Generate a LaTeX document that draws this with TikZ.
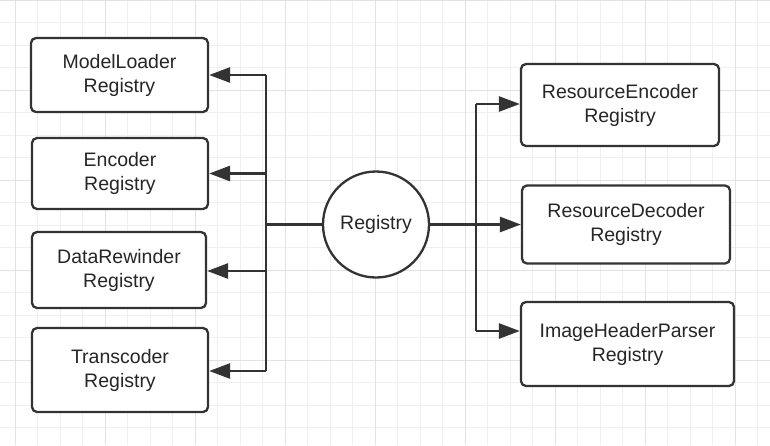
\documentclass[tikz,border=0pt]{standalone}
\usepackage{fontspec}
\setmainfont{Liberation Sans}
\usetikzlibrary{arrows.meta}
\definecolor{strokec}{HTML}{333333}
\definecolor{textc}{HTML}{262626}
\definecolor{gridminor}{HTML}{EFEFEF}
\definecolor{gridmajor}{HTML}{E2E2E2}
\tikzset{
  regbox/.style={draw=strokec, line width=2.3pt, rounded corners=5pt, fill=white,
    align=center, inner sep=0pt, text=textc,
    font=\fontsize{19.5}{24}\selectfont},
  regcircle/.style={draw=strokec, line width=2.3pt, circle, fill=white,
    minimum size=106pt, inner sep=0pt, text=textc,
    font=\fontsize{19.5}{24}\selectfont},
  conn/.style={draw=strokec, line width=2.7pt},
  arr/.style={conn, -{Triangle[length=21pt,width=15pt]}},
}
\begin{document}
\begin{tikzpicture}[x=1pt,y=-1pt]
\useasboundingbox (0,0) rectangle (770,445);
\fill[white] (0,0) rectangle (770,445);
% grid
\foreach \i in {0,...,35} {
  \pgfmathsetmacro{\xx}{-7.5+22.5*\i}
  \draw[gridminor, line width=1pt] (\xx,0) -- (\xx,445);
}
\foreach \i in {0,...,20} {
  \pgfmathsetmacro{\yy}{22.5*\i}
  \draw[gridminor, line width=1pt] (0,\yy) -- (770,\yy);
}
\foreach \i in {0,...,8} {
  \pgfmathsetmacro{\xx}{15+90*\i}
  \draw[gridmajor, line width=1pt] (\xx,0) -- (\xx,445);
}
\foreach \i in {0,...,4} {
  \pgfmathsetmacro{\yy}{90*\i}
  \draw[gridmajor, line width=1pt] (0,\yy) -- (770,\yy);
}
% nodes
\node[regbox, minimum width=177pt, minimum height=74pt] (ml) at (119.5,75) {ModelLoader\\Registry};
\node[regbox, minimum width=176pt, minimum height=71pt] (enc) at (120,173.5) {Encoder\\Registry};
\node[regbox, minimum width=174pt, minimum height=76pt] (dr) at (119,270) {DataRewinder\\Registry};
\node[regbox, minimum width=176pt, minimum height=84pt] (tc) at (120,370) {Transcoder\\Registry};
\node[regcircle] (reg) at (376,224.5) {Registry};
\node[regbox, minimum width=198pt, minimum height=82pt] (re) at (620,105) {ResourceEncoder\\Registry};
\node[regbox, minimum width=208pt, minimum height=78pt] (rd) at (626,224.5) {ResourceDecoder\\Registry};
\node[regbox, minimum width=213pt, minimum height=84pt] (ihp) at (627.5,344) {ImageHeaderParser\\Registry};
% trunk coordinates
\coordinate (l1) at (266,75);
\coordinate (l2) at (266,173.5);
\coordinate (l3) at (266,271);
\coordinate (l4) at (266,371);
\coordinate (lm) at (266,224.5);
\coordinate (r1) at (476,104);
\coordinate (rm) at (476,224.5);
\coordinate (r3) at (476,331);
% connectors
\draw[conn] (l1) -- (l4);
\draw[conn] (lm) -- (reg.west);
\draw[arr] (l1) -- (l1 -| ml.east);
\draw[arr] (l2) -- (l2 -| enc.east);
\draw[arr] (l3) -- (l3 -| dr.east);
\draw[arr] (l4) -- (l4 -| tc.east);
\draw[conn] (r1) -- (r3);
\draw[conn] (reg.east) -- (rm);
\draw[arr] (r1) -- (r1 -| re.west);
\draw[arr] (rm) -- (rd.west);
\draw[arr] (r3) -- (r3 -| ihp.west);
\end{tikzpicture}
\end{document}
